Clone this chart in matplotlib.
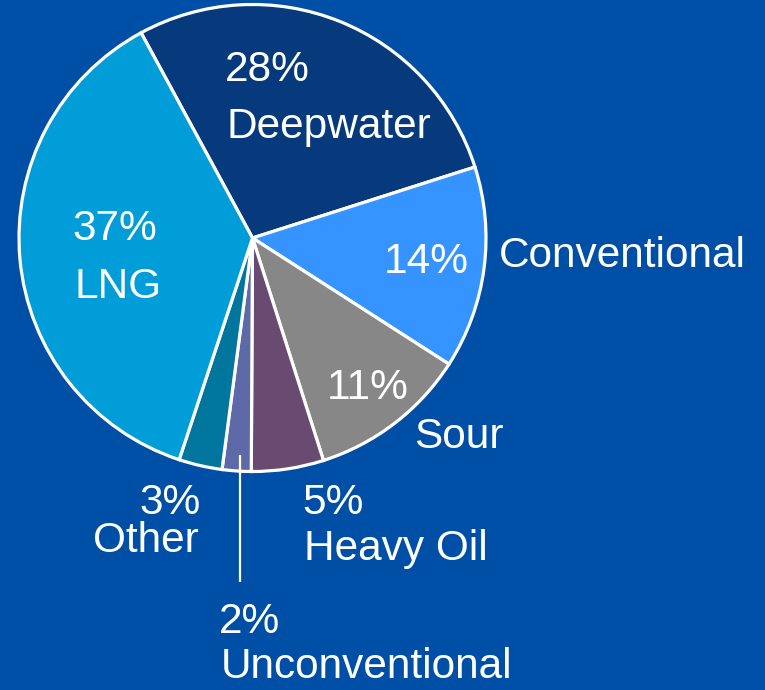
import matplotlib
matplotlib.use("Agg")
import matplotlib.pyplot as plt

categories = ["Deepwater", "Conventional", "Sour", "Heavy Oil", "Unconventional", "Other", "LNG"]
shares = [28, 14, 11, 5, 2, 3, 37]
colors = ["#063A7C", "#3594FF", "#878787", "#694A71", "#5E6AA7", "#00769E", "#009DD8"]

BG = "#004FA6"
W, H = 765, 690

plt.rcParams["font.family"] = ["Liberation Sans", "DejaVu Sans"]

fig = plt.figure(figsize=(W / 100, H / 100), dpi=100, facecolor=BG)
ax = fig.add_axes([0, 0, 1, 1])
ax.set_facecolor(BG)

cx, cy, r = 252.5, H - 238, 233.5
ax.pie(shares, colors=colors, startangle=118.5, counterclock=False,
       center=(cx, cy), radius=r, frame=True,
       wedgeprops=dict(edgecolor="white", linewidth=2.3))
ax.set_xlim(0, W)
ax.set_ylim(0, H)
ax.set_aspect("equal")
ax.axis("off")

fs = 30.5
tk = dict(color="white", fontsize=fs, va="center")

def pct(name):
    return f"{shares[categories.index(name)]}%"

def y(p):
    return H - p

# Deepwater
ax.text(225, y(70), pct("Deepwater"), ha="left", **tk)
ax.text(227, y(127), "Deepwater", ha="left", **tk)
# LNG
ax.text(115, y(229), pct("LNG"), ha="center", **tk)
ax.text(118, y(287), "LNG", ha="center", **tk)
# Conventional
ax.text(426, y(262), pct("Conventional"), ha="center", **tk)
ax.text(499, y(256), "Conventional", ha="left", **tk)
# Sour
ax.text(368, y(388), pct("Sour"), ha="center", **tk)
ax.text(414, y(437), "Sour", ha="left", **tk)
# Heavy Oil
ax.text(302, y(503), pct("Heavy Oil"), ha="left", **tk)
ax.text(304, y(549), "Heavy Oil", ha="left", **tk)
# Other
ax.text(201, y(503), pct("Other"), ha="right", **tk)
ax.text(199, y(541), "Other", ha="right", **tk)
# Unconventional with leader line
ax.plot([240, 240], [y(455), y(582)], color="white", linewidth=1.6, solid_capstyle="butt")
ax.text(219, y(622), pct("Unconventional"), ha="left", **tk)
ax.text(221, y(667), "Unconventional", ha="left", **tk)

fig.savefig("out.png", dpi=100, facecolor=BG)
